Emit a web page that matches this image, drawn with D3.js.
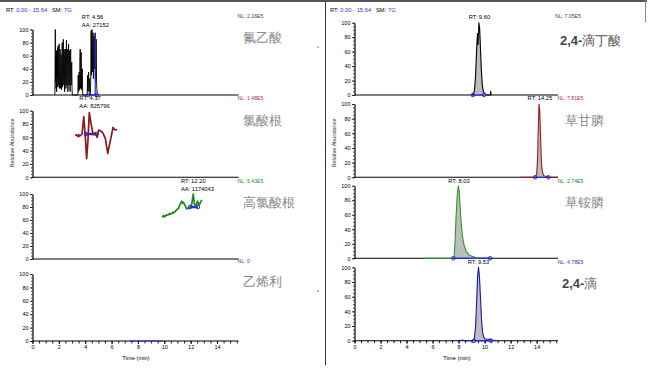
<!DOCTYPE html>
<html><head><meta charset="utf-8">
<script src="https://cdn.jsdelivr.net/npm/d3@7"></script>
<style>
body{margin:0;background:#fff;}
svg text{font-family:"Liberation Sans",Arial,sans-serif;white-space:pre;}
</style></head>
<body>
<script>
// ---------- DATA ----------
const xTickLabels = [0, 2, 4, 6, 8, 10, 12, 14];
const yTickLabels = [0, 20, 40, 60, 80, 100];
const timeRange = [0, 15.64];

const compoundsLeft = ["氟乙酸", "氯酸根", "高氯酸根", "乙烯利"];
const compoundsRightPrefix = ["2,4-", "", "", "2,4-"];
const compoundsRight = ["滴丁酸", "草甘膦", "草铵膦", "滴"];
const nlLeft = ["NL: 2.16E5", "NL: 1.48E5", "NL: 5.43E5", "NL: 0"];
const nlRight = ["NL: 7.05E5", "NL: 7.81E5", "NL: 2.74E5", "NL: 4.78E5"];
const rtLeft = [["RT: 4.56", "AA: 27152"], ["RT: 4.37", "AA: 825796"], ["RT: 12.20", "AA: 1174043"], []];
const rtLeftPos = [4.56, 4.37, 12.20, null];
const rtRight = ["RT: 9.60", "RT: 14.25", "RT: 8.03", "RT: 9.53"];
const rtRightPos = [9.60, 14.25, 8.03, 9.53];

// traces: [time (min), relative abundance]
const fluoroacetic = [[1.70,0],[1.73,100],[1.75,20],[1.77,60],[1.79,10],[1.81,68],[1.83,5],[1.86,65],[1.88,30],[1.90,72],[1.92,12],[1.94,75],[1.96,30],[1.98,15],[2.00,70],[2.02,78],[2.04,10],[2.06,25],[2.08,66],[2.10,70],[2.12,20],[2.14,10],[2.16,62],[2.18,55],[2.20,8],[2.22,20],[2.24,74],[2.26,80],[2.28,12],[2.30,30],[2.32,60],[2.34,85],[2.36,25],[2.38,15],[2.40,70],[2.42,60],[2.44,5],[2.46,35],[2.48,64],[2.50,70],[2.52,20],[2.54,10],[2.56,72],[2.58,84],[2.60,15],[2.62,40],[2.64,70],[2.66,65],[2.68,5],[2.70,10],[2.72,60],[2.74,78],[2.76,15],[2.78,20],[2.80,68],[2.82,55],[2.84,10],[2.86,5],[2.88,62],[2.90,70],[2.92,15],[2.94,20],[2.96,45],[2.98,50],[3.00,10],[3.02,0],[3.44,0],[3.47,30],[3.50,5],[3.52,25],[3.54,35],[3.56,8],[3.58,10],[3.60,55],[3.62,70],[3.64,10],[3.66,20],[3.68,60],[3.70,65],[3.72,8],[3.74,15],[3.76,35],[3.78,40],[3.81,0],[4.15,0],[4.18,30],[4.20,5],[4.22,10],[4.24,28],[4.26,35],[4.28,8],[4.30,5],[4.32,25],[4.34,20],[4.38,0],[4.42,20],[4.45,98],[4.47,30],[4.48,40],[4.50,92],[4.52,100],[4.54,35],[4.56,60],[4.58,90],[4.60,95],[4.62,25],[4.64,30],[4.66,85],[4.68,90],[4.70,40],[4.72,50],[4.74,92],[4.76,95],[4.78,30],[4.80,20],[4.82,80],[4.84,85],[4.86,20],[4.88,10],[4.92,0]];
const chlorate = [[3.26,62],[3.33,64],[3.40,63],[3.46,61],[3.51,64],[3.58,62],[3.65,63],[3.76,65],[3.89,91],[4.01,60],[4.11,28],[4.21,56],[4.31,97],[4.44,81],[4.60,64],[4.77,67],[4.90,60],[5.02,71],[5.15,70],[5.28,68],[5.40,64],[5.53,58],[5.71,36],[5.91,55],[6.11,75],[6.20,72],[6.29,71],[6.41,72]];
const perchlorate = [[9.82,66],[9.90,65],[9.95,67],[10.02,65],[10.07,66],[10.15,68],[10.20,67],[10.33,68],[10.40,70],[10.45,69],[10.58,70],[10.65,72],[10.70,71],[10.83,73],[10.95,76],[11.08,78],[11.20,84],[11.33,89],[11.40,86],[11.46,87],[11.58,82],[11.70,77],[11.82,78],[11.96,80],[12.08,84],[12.20,100],[12.28,85],[12.40,81],[12.52,89],[12.65,83],[12.75,87],[12.85,91]];
const ethephon = [[7.40,0],[9.90,0]];
const dichlorButyric = [[9.00,0],[9.12,1],[9.22,6],[9.30,25],[9.38,60],[9.45,85],[9.50,70],[9.56,100],[9.62,92],[9.68,65],[9.75,35],[9.82,14],[9.90,5],[10.00,2],[10.10,0],[10.45,0],[10.47,5],[10.50,0]];
const glyphosate = [[12.73,0],[13.90,0],[14.00,4],[14.07,25],[14.13,70],[14.18,100],[14.24,90],[14.30,55],[14.36,22],[14.43,8],[14.55,2],[14.75,1],[15.00,0],[15.64,0]];
const glufosinate = [[5.30,0],[7.55,0],[7.65,2],[7.72,20],[7.80,55],[7.90,88],[7.98,100],[8.05,92],[8.12,70],[8.20,48],[8.30,30],[8.42,18],[8.58,10],[8.78,5],[9.00,3],[9.30,1],[9.60,0]];
const d24 = [[7.90,0],[8.30,1],[8.45,0],[9.10,0],[9.20,2],[9.30,18],[9.38,50],[9.46,88],[9.53,100],[9.60,88],[9.68,60],[9.76,30],[9.84,12],[9.93,5],[10.05,2],[10.40,2],[10.60,1],[10.90,0]];

// integration markers: [start, end, level]
const integLeft = [[4.24, 4.87, 0], [4.05, 4.85, 65], [11.95, 12.55, 80], null];
const integRight = [[9.10, 9.96, 0], [13.88, 14.90, 0], [7.60, 10.42, 0], [9.19, 10.47, 0]];

// ---------- LAYOUT ----------
const W = 650, H = 369;
const svg = d3.select("body").append("svg").attr("width", W).attr("height", H);

const xL = d3.scaleLinear().domain(timeRange).range([32.5, 238.6]);
const xR = d3.scaleLinear().domain(timeRange).range([354.5, 558]);
const leftY = [[95, 29.5], [177.3, 110.7], [259, 194], [341, 274]];
const rightY = [[95, 22.7], [177.3, 104], [258.3, 185.7], [340.7, 267.3]];

const leftTraces = [fluoroacetic, chlorate, perchlorate, ethephon];
const rightTraces = [dichlorButyric, glyphosate, glufosinate, d24];
const leftColors = ["#000", "#8b1a1a", "#1e8a1e", "#2b2bd0"];
const rightColors = ["#000", "#a01818", "#2a9a2a", "#1a1aa8"];
const nlColors = ["#444", "#b03030", "#2a8a2a", "#3a3ab0"];
const labelColorsL = ["#8a8a8a", "#8a8a8a", "#8a8a8a", "#8a8a8a"];
const labelColorsR = ["#555", "#888", "#888", "#666"];

// borders
svg.append("rect").attr("x", 0).attr("y", 0).attr("width", 647).attr("height", 2).attr("fill", "#555");
svg.append("line").attr("x1", 645.5).attr("x2", 645.5).attr("y1", 0).attr("y2", 22).attr("stroke", "#888").attr("stroke-width", 1);
svg.append("line").attr("x1", 325.5).attr("x2", 325.5).attr("y1", 2).attr("y2", 365).attr("stroke", "#333").attr("stroke-width", 1);

// header
function header(xpos) {
  const t = svg.append("text").attr("x", xpos).attr("y", 12).attr("font-size", 5.8);
  t.append("tspan").attr("fill", "#000").text("RT: ");
  t.append("tspan").attr("fill", "#3333cc").text("0.00 - 15.64");
  t.append("tspan").attr("fill", "#000").text("   SM: ");
  t.append("tspan").attr("fill", "#3333cc").text("7G");
}
header(6);
header(330);

function drawPanel(x, yr, i, bottom, trace, color, fill, integ, lw) {
  const y = d3.scaleLinear().domain([0, 100]).range(yr);
  const g = svg.append("g");
  g.append("g").attr("transform", `translate(${x.range()[0]},0)`)
    .call(d3.axisLeft(y).tickValues(d3.range(0, 101, 5)).tickSize(1.5).tickFormat(""))
    .call(a => a.select(".domain").remove())
    .selectAll("line").attr("stroke", "#000").attr("stroke-width", 0.7);
  const ya = g.append("g").attr("transform", `translate(${x.range()[0]},0)`)
    .call(d3.axisLeft(y).tickValues(yTickLabels).tickSize(2.5).tickPadding(1.5).tickSizeOuter(0));
  ya.select(".domain").attr("stroke", "#000").attr("stroke-width", 1.2);
  ya.selectAll("line").attr("stroke", "#000").attr("stroke-width", 0.8);
  ya.selectAll("text").attr("font-size", 5.5).attr("font-family", "Liberation Sans, Arial").attr("fill", "#000");
  g.append("line").attr("x1", x.range()[0]).attr("x2", x.range()[1]).attr("y1", y(0)).attr("y2", y(0))
    .attr("stroke", "#000").attr("stroke-width", 1.1);
  if (bottom) {
    const xa = g.append("g").attr("transform", `translate(0,${y(0)})`);
    xa.call(d3.axisBottom(x).tickValues(d3.range(0, 15.6, 0.5)).tickSize(2.5).tickFormat(""))
      .call(a => a.select(".domain").remove())
      .selectAll("line").attr("stroke", "#000").attr("stroke-width", 0.9);
    const xb = g.append("g").attr("transform", `translate(0,${y(0)})`)
      .call(d3.axisBottom(x).tickValues(xTickLabels).tickSize(3).tickPadding(1.5).tickSizeOuter(0));
    xb.select(".domain").remove();
    xb.selectAll("line").attr("stroke", "#000").attr("stroke-width", 0.9);
    xb.selectAll("text").attr("font-size", 5.5).attr("font-family", "Liberation Sans, Arial").attr("fill", "#000");
  }
  const line = d3.line().x(d => x(d[0])).y(d => y(d[1]));
  if (fill) {
    const area = d3.area().x(d => x(d[0])).y0(y(0)).y1(d => y(d[1]));
    g.append("path").datum(trace).attr("d", area).attr("fill", "#bdbdbd");
  }
  if (integ) {
    g.append("line").attr("x1", x(integ[0])).attr("x2", x(integ[1]))
      .attr("y1", y(integ[2])).attr("y2", y(integ[2])).attr("stroke", "#2a2ae0").attr("stroke-width", integ[2] > 0 ? 2.5 : 1.4);
  }
  g.append("path").datum(trace).attr("d", line).attr("fill", "none").attr("stroke", color)
    .attr("stroke-width", lw).attr("stroke-linejoin", "round");
  if (integ) {
    [integ[0], integ[1]].forEach(t => {
      g.append("circle").attr("cx", x(t)).attr("cy", y(integ[2])).attr("r", 1.8)
        .attr("fill", "none").attr("stroke", "#2a2ae0").attr("stroke-width", 1);
    });
  }
  return y;
}

for (let i = 0; i < 4; i++) {
  const yl = drawPanel(xL, leftY[i], i, i === 3, leftTraces[i], leftColors[i], false, integLeft[i], i === 0 ? 0.9 : (i === 3 ? 1 : 1.7));
  if (i === 0) {
    svg.append("line").attr("x1", xL(4.76)).attr("x2", xL(4.76)).attr("y1", yl(0)).attr("y2", yl(90))
      .attr("stroke", "#2a2ae0").attr("stroke-width", 1.2);
  }
  drawPanel(xR, rightY[i], i, i === 3, rightTraces[i], rightColors[i], true, integRight[i], 1.1);

  svg.append("text").attr("x", 237.5).attr("y", [18, 100, 182.5, 263][i]).attr("font-size", 5.2)
    .attr("fill", nlColors[i]).text(nlLeft[i]);
  svg.append("text").attr("x", i === 0 ? 555 : 557.5).attr("y", [18, 100, 182.5, 264][i]).attr("font-size", 5.2)
    .attr("fill", nlColors[i]).text(nlRight[i]);

  if (rtLeftPos[i] !== null) {
    const ty = [19, 99.5, 182.5][i];
    const t1 = svg.append("text").attr("x", 0).attr("y", ty).attr("font-size", 5.8).text(rtLeft[i][0]);
    const w = t1.node().getComputedTextLength();
    const left = xL(rtLeftPos[i]) - w / 2;
    t1.attr("x", left);
    svg.append("text").attr("x", left).attr("y", ty + 8).attr("font-size", 5.8).text(rtLeft[i][1]);
  }
  svg.append("text").attr("x", xR(rtRightPos[i])).attr("y", [18.5, 99.5, 182.5, 263.5][i]).attr("font-size", 5.8)
    .attr("text-anchor", "middle").text(rtRight[i]);

  svg.append("text").attr("x", 243).attr("y", [42, 125, 206.5, 286][i]).attr("font-size", 12.5)
    .attr("font-family", "Liberation Serif, Noto Sans CJK SC").attr("fill", labelColorsL[i]).text(compoundsLeft[i]);
  const ct = svg.append("text").attr("x", [560, 565, 565, 562][i]).attr("y", [45, 124.5, 206.5, 288][i]).attr("font-size", 13)
    .attr("font-family", "Liberation Serif, Noto Sans CJK SC").attr("fill", labelColorsR[i]);
  if (compoundsRightPrefix[i]) ct.append("tspan").attr("font-weight", "bold").attr("fill", "#444").text(compoundsRightPrefix[i]);
  ct.append("tspan").text(compoundsRight[i]);
}

function yTitle(xpos) {
  svg.append("text").attr("transform", `translate(${xpos},143) rotate(-90)`).attr("text-anchor", "middle")
    .attr("font-size", 5.5).attr("fill", "#333").text("Relative Abundance");
}
yTitle(14);
yTitle(336);
svg.append("text").attr("x", 136).attr("y", 360).attr("text-anchor", "middle").attr("font-size", 5.8).text("Time (min)");
svg.append("text").attr("x", 457).attr("y", 360).attr("text-anchor", "middle").attr("font-size", 5.8).text("Time (min)");

svg.append("circle").attr("cx", 318).attr("cy", 47).attr("r", 0.8).attr("fill", "#666");
svg.append("circle").attr("cx", 318).attr("cy", 291).attr("r", 0.8).attr("fill", "#666");
</script>
</body></html>
